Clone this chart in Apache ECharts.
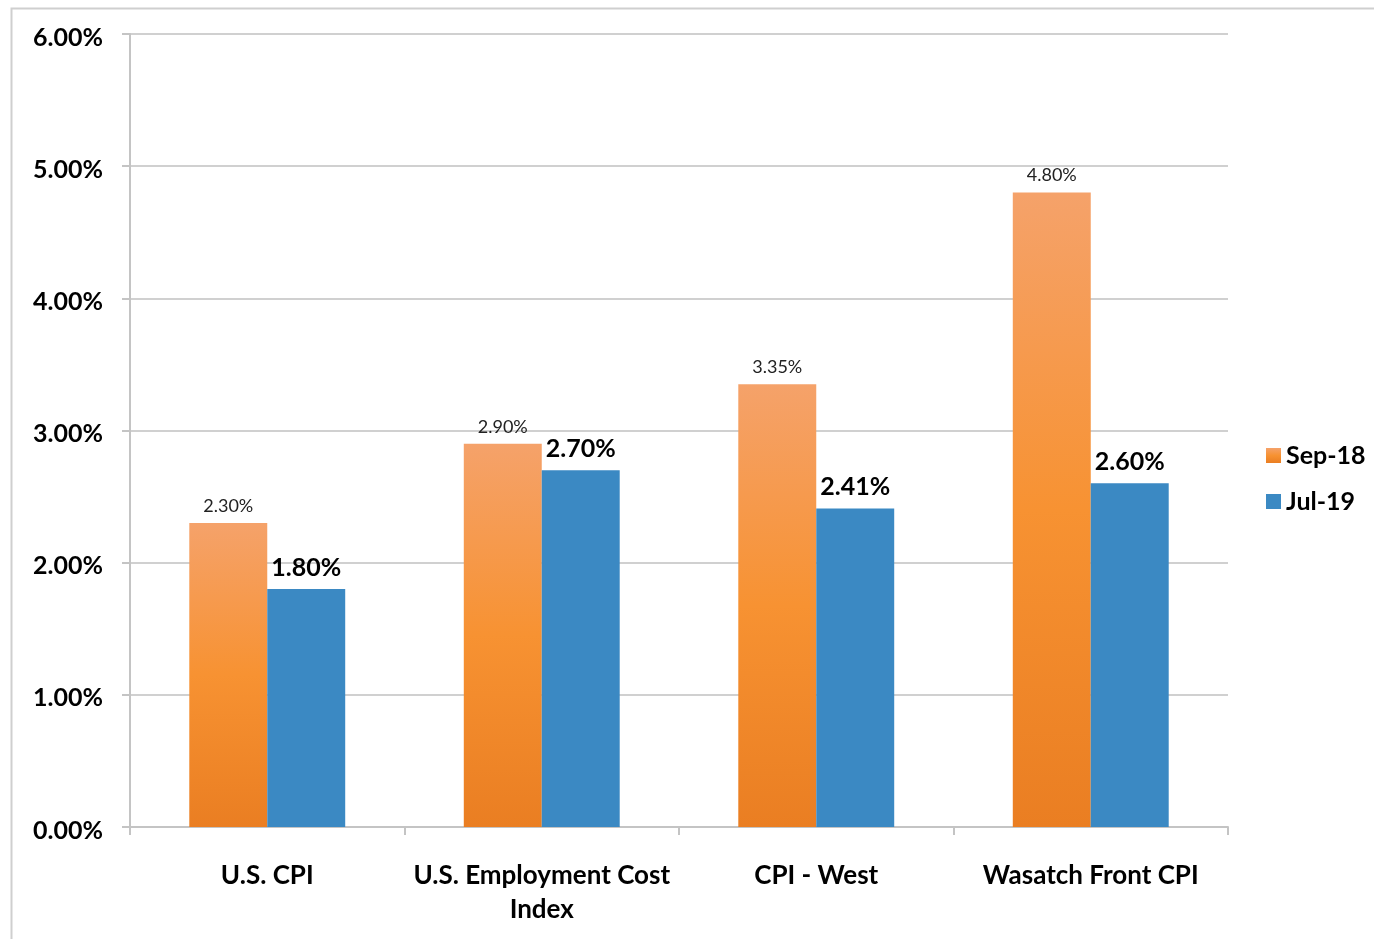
<!DOCTYPE html>
<html>
<head>
<meta charset="utf-8">
<script src="https://cdn.jsdelivr.net/npm/echarts@6/dist/echarts.min.js"></script>
<style>
html,body{margin:0;padding:0;background:#fff;}
#chart{width:1374px;height:939px;}
</style>
</head>
<body>
<div id="chart"></div>
<script>
const categories = ['U.S. CPI', 'U.S. Employment Cost\nIndex', 'CPI - West', 'Wasatch Front CPI'];
const seriesNames = ['Sep-18', 'Jul-19'];
const sep18 = [2.30, 2.90, 3.35, 4.80];
const jul19 = [1.80, 2.70, 2.41, 2.60];
const yTicks = [0, 1, 2, 3, 4, 5, 6];

const FONT = 'Lato, "Open Sans", sans-serif';
const chart = echarts.init(document.getElementById('chart'));
const orangeGrad = new echarts.graphic.LinearGradient(0, 0, 0, 1, [
  {offset: 0, color: '#f5a26a'},
  {offset: 0.5, color: '#f79232'},
  {offset: 1, color: '#ea7e22'}
]);
chart.setOption({
  animation: false,
  backgroundColor: '#fff',
  textStyle: {fontFamily: FONT},
  graphic: [{
    type: 'rect', left: 9, top: 6,
    shape: {width: 1500, height: 1100},
    style: {fill: 'none', stroke: '#cfcfcf', lineWidth: 2},
    silent: true
  }],
  grid: {left: 130, right: 146, top: 34, bottom: 112},
  legend: {
    orient: 'vertical', left: 1261, top: 438,
    itemWidth: 15, itemHeight: 15, itemGap: 21,
    icon: 'rect',
    textStyle: {fontFamily: FONT, fontWeight: 'bold', fontSize: 25, color: '#000'},
    data: seriesNames
  },
  xAxis: {
    type: 'category', data: categories,
    axisLine: {lineStyle: {color: '#c4c4c4', width: 2}},
    axisTick: {show: true, length: 8, lineStyle: {color: '#c4c4c4', width: 2}},
    axisLabel: {fontFamily: FONT, fontWeight: 'bold', fontSize: 26, color: '#000', margin: 32, lineHeight: 34, interval: 0}
  },
  yAxis: {
    type: 'value', min: yTicks[0], max: yTicks[yTicks.length - 1], interval: 1,
    axisLine: {show: true, lineStyle: {color: '#c4c4c4', width: 2}},
    axisTick: {show: true, length: 8, lineStyle: {color: '#c4c4c4', width: 2}},
    splitLine: {lineStyle: {color: '#d0d0d0', width: 2}},
    axisLabel: {color: '#000', margin: 27,
      formatter: v => '{a|' + v.toFixed(2) + '%}',
      rich: {a: {fontFamily: FONT, fontWeight: 'bold', fontSize: 25, color: '#000', padding: [7, 0, 0, 0]}}}
  },
  series: [{
    name: seriesNames[0], type: 'bar', data: sep18,
    barWidth: '28.4%', barGap: '0%',
    itemStyle: {color: orangeGrad},
    label: {show: true, position: 'top', distance: 8, fontFamily: FONT, fontSize: 18, color: '#222',
      formatter: p => p.value.toFixed(2) + '%'}
  }, {
    name: seriesNames[1], type: 'bar', data: jul19,
    barWidth: '28.4%', barGap: '0%',
    itemStyle: {color: '#3b89c3'},
    label: {show: true, position: 'top', distance: 9, fontFamily: FONT, fontWeight: 'bold', fontSize: 25, color: '#000',
      formatter: p => p.value.toFixed(2) + '%'}
  }]
});
</script>
</body>
</html>
